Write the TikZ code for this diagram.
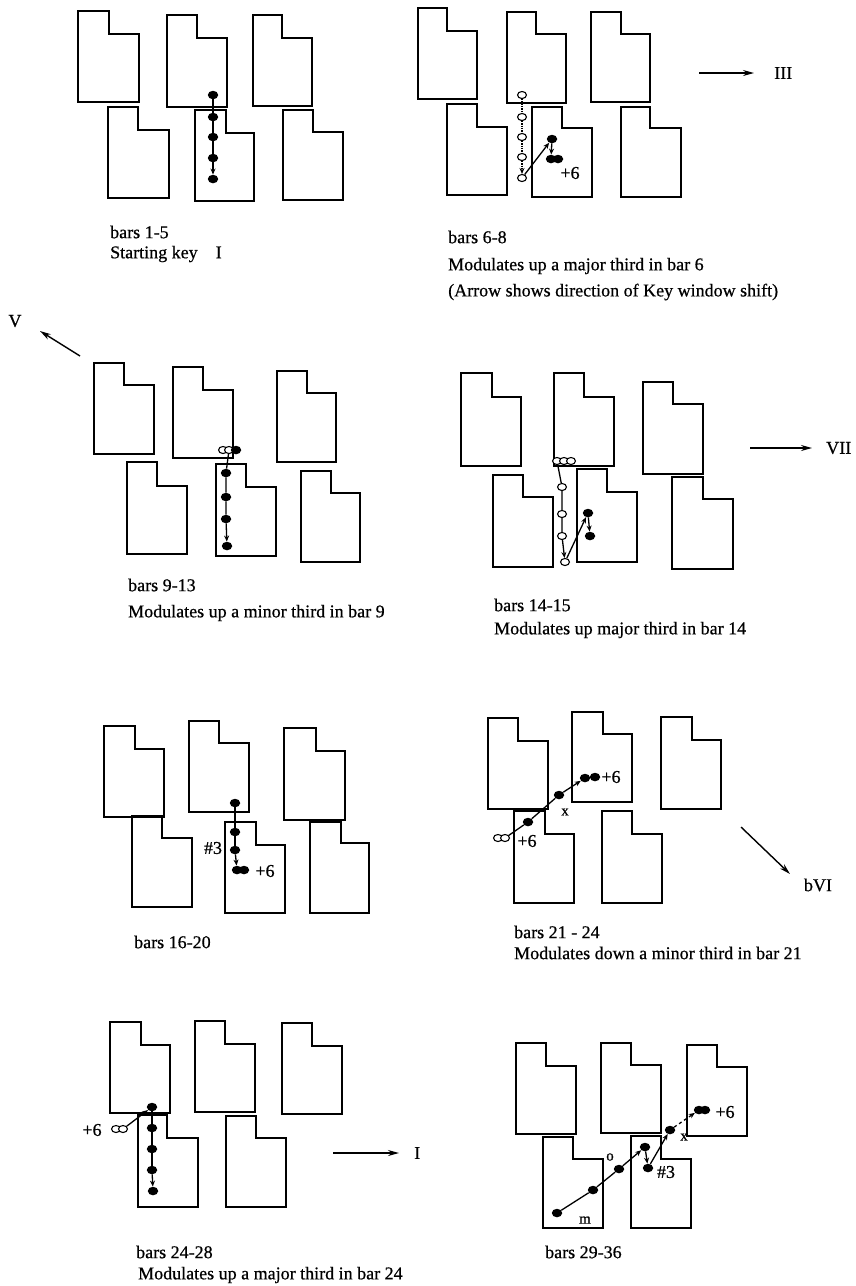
\documentclass[tikz,border=0pt]{standalone}
\usepackage{fontspec}
\setmainfont{Liberation Serif}[FakeBold=0.6]
\usetikzlibrary{shapes.geometric,arrows.meta}
\newcommand\kwin[6]{\draw[kw] (#1,#2) -- (#3,#2) -- (#3,#4) -- (#5,#4) -- (#5,#6) -- (#1,#6) -- cycle;}
\begin{document}
\begin{tikzpicture}[x=1pt,y=-1pt,
  kw/.style={line width=1.8pt, line join=miter},
  fd/.style={ellipse, fill=black, minimum width=10.5pt, minimum height=8.5pt, inner sep=0pt},
  od/.style={ellipse, draw, line width=1.1pt, fill=white, minimum width=9pt, minimum height=7pt, inner sep=0pt},
  con/.style={line width=1.3pt},
  tip/.style={-{Stealth[length=6pt,width=5pt]}},
  dirarrow/.style={line width=1.4pt, -{Stealth[length=11pt,width=6pt]}},
  lbl/.style={font=\fontsize{18}{21}\selectfont, anchor=west, inner sep=0pt},
  sm/.style={font=\fontsize{18}{21}\selectfont, inner sep=0pt},
  tiny/.style={font=\fontsize{15}{18}\selectfont, inner sep=0pt}]
\path[use as bounding box] (0,0) rectangle (855,1286);

% ================= Panel 1 =================
\kwin{78}{11}{109}{34}{139}{102}
\kwin{167}{15}{197}{38}{227}{107}
\kwin{253}{15}{282}{38}{312}{106}
\kwin{108}{107}{138}{130}{169}{198}
\kwin{195}{110}{226}{133}{254}{201}
\kwin{283}{110}{313}{132}{343}{200}
\node[fd] (pa1) at (213,95) {};
\node[fd] (pa2) at (213,117) {};
\node[fd] (pa3) at (213,137) {};
\node[fd] (pa4) at (213,158) {};
\node[fd] (pa5) at (213,179) {};
\draw[con] (pa1) -- (pa2) -- (pa3) -- (pa4);
\draw[con,tip] (pa4) -- (pa5);
\node[lbl] (t1a) at (110,232) {bars 1-5};
\node[lbl] (t1b) at (110,254) {Starting key\hspace{18pt}I};

% ================= Panel 2 =================
\kwin{418}{8}{447}{31}{477}{99}
\kwin{507}{12}{536}{34}{566}{103}
\kwin{591}{12}{621}{34}{650}{102}
\kwin{447}{104}{477}{127}{507}{195}
\kwin{532}{107}{562}{128}{592}{197}
\kwin{621}{107}{650}{128}{681}{197}
\node[od] (pb1) at (522,95) {};
\node[od] (pb2) at (522,117) {};
\node[od] (pb3) at (522,137) {};
\node[od] (pb4) at (522,157) {};
\node[od] (pb5) at (522,178) {};
\draw[con,densely dotted] (pb1) -- (pb2) -- (pb3) -- (pb4);
\draw[con,densely dotted,tip] (pb4) -- (pb5);
\node[fd] (pb6) at (552,139) {};
\node[fd] (pb7) at (551,159) {};
\node[fd] (pb8) at (558,159) {};
\draw[con,tip] (pb5) -- (pb6);
\draw[con,tip] (pb6) -- (pb7);
\node[sm] (pb9) at (570,173) {+6};
\coordinate (ar2s) at (699,73);
\coordinate (ar2e) at (754,73);
\draw[dirarrow] (ar2s) -- (ar2e);
\node[lbl] (ar2l) at (774,73) {III};
\node[lbl] (t2a) at (448,237) {bars 6-8};
\node[lbl] (t2b) at (448,266) {Modulates up a major third in bar 6};
\node[lbl] (t2c) at (448,292) {(Arrow shows direction of Key window shift)};

% ================= Panel 3 =================
\kwin{94}{363}{124}{385}{154}{454}
\kwin{173}{367}{203}{390}{233}{458}
\kwin{277}{371}{307}{393}{336}{462}
\kwin{127}{462}{157}{486}{187}{554}
\kwin{216}{464}{246}{487}{276}{556}
\kwin{301}{471}{331}{493}{360}{562}
\node[od] (pc0) at (223,450) {};
\node[od] (pc1) at (229,450) {};
\node[fd] (pc2) at (236,450) {};
\node[fd] (pc3) at (226,473) {};
\node[fd] (pc4) at (226,497) {};
\node[fd] (pc5) at (226,519) {};
\node[fd] (pc6) at (227,546) {};
\draw[con] (pc1) -- (pc3) -- (pc4) -- (pc5);
\draw[con,tip] (pc5) -- (pc6);
\coordinate (ar3s) at (80,356);
\coordinate (ar3e) at (40,331);
\draw[dirarrow] (ar3s) -- (ar3e);
\node[sm] (ar3l) at (15,321) {V};
\node[lbl] (t3a) at (128,585) {bars 9-13};
\node[lbl] (t3b) at (128,613) {Modulates up a minor third in bar 9};

% ================= Panel 4 =================
\kwin{461}{373}{492}{397}{521}{466}
\kwin{554}{373}{584}{397}{614}{466}
\kwin{643}{382}{673}{404}{703}{474}
\kwin{493}{475}{523}{497}{553}{567}
\kwin{577}{469}{607}{492}{637}{562}
\kwin{672}{477}{703}{499}{733}{569}
\node[od] (pd0) at (557,461) {};
\node[od] (pd1) at (564,461) {};
\node[od] (pd2) at (571,461) {};
\node[od] (pd3) at (562,487) {};
\node[od] (pd4) at (562,514) {};
\node[od] (pd5) at (562,536) {};
\node[od] (pd6) at (565,562) {};
\draw[con] (pd0) -- (pd3) -- (pd4) -- (pd5);
\draw[con,tip] (pd5) -- (pd6);
\node[fd] (pd7) at (588,513) {};
\node[fd] (pd8) at (590,536) {};
\draw[con,tip] (pd6) -- (pd7);
\draw[con,tip] (pd7) -- (pd8);
\coordinate (ar4s) at (750,448);
\coordinate (ar4e) at (812,448);
\draw[dirarrow] (ar4s) -- (ar4e);
\node[lbl] (ar4l) at (826,448) {VII};
\node[lbl] (t4a) at (494,605) {bars 14-15};
\node[lbl] (t4b) at (494,630) {Modulates up major third in bar 14};

% ================= Panel 5 =================
\kwin{104}{726}{135}{749}{164}{817}
\kwin{189}{721}{219}{743}{249}{812}
\kwin{284}{728}{316}{751}{345}{820}
\kwin{132}{816}{162}{838}{192}{907}
\kwin{225}{822}{256}{845}{285}{913}
\kwin{310}{822}{341}{843}{369}{913}
\node[fd] (pe1) at (235,803) {};
\node[fd] (pe2) at (235,832) {};
\node[fd] (pe3) at (235,850) {};
\node[fd] (pe4) at (237,870) {};
\node[fd] (pe5) at (244,870) {};
\draw[con] (pe1) -- (pe2) -- (pe3);
\draw[con,tip] (pe3) -- (pe4);
\node[sm] (pe6) at (213,848) {\#3};
\node[sm] (pe7) at (265,871) {+6};
\node[lbl] (t5a) at (134,942) {bars 16-20};

% ================= Panel 6 =================
\kwin{488}{718}{518}{741}{548}{809}
\kwin{572}{712}{603}{734}{632}{802}
\kwin{661}{717}{692}{740}{721}{809}
\kwin{514}{811}{545}{834}{574}{903}
\kwin{602}{811}{632}{834}{662}{903}
\node[od] (pf0) at (498,838) {};
\node[od] (pf1) at (505,838) {};
\node[fd] (pf2) at (528,822) {};
\node[fd] (pf3) at (559,795) {};
\node[fd] (pf4) at (585,778) {};
\node[fd] (pf5) at (595,777) {};
\draw[con] (pf1) -- (pf2) -- (pf3);
\draw[con,tip] (pf3) -- (pf4);
\node[sm] (pf6) at (527,841) {+6};
\node[sm] (pf7) at (611,777) {+6};
\node[tiny] (pf8) at (565,812) {x};
\coordinate (ar6s) at (741,827);
\coordinate (ar6e) at (790,874);
\draw[dirarrow] (ar6s) -- (ar6e);
\node[sm] (ar6l) at (818,885) {bVI};
\node[lbl] (t6a) at (514,932) {bars 21 - 24};
\node[lbl] (t6b) at (514,953) {Modulates down a minor third in bar 21};

% ================= Panel 7 =================
\kwin{110}{1022}{141}{1045}{170}{1113}
\kwin{195}{1021}{225}{1044}{255}{1112}
\kwin{282}{1023}{312}{1046}{342}{1114}
\kwin{138}{1115}{167}{1138}{198}{1207}
\kwin{226}{1116}{256}{1138}{286}{1207}
\node[fd] (pg1) at (152,1107) {};
\node[fd] (pg2) at (152,1128) {};
\node[fd] (pg3) at (152,1149) {};
\node[fd] (pg4) at (152,1170) {};
\node[fd] (pg5) at (153,1191) {};
\draw[con] (pg1) -- (pg2) -- (pg3) -- (pg4);
\draw[con,tip] (pg4) -- (pg5);
\node[od] (pg6) at (116,1129) {};
\node[od] (pg7) at (123,1129) {};
\draw[con,tip] (pg7) -- (pg1);
\node[sm] (pg8) at (92,1130) {+6};
\coordinate (ar7s) at (333,1153);
\coordinate (ar7e) at (399,1153);
\draw[dirarrow] (ar7s) -- (ar7e);
\node[lbl] (ar7l) at (414,1153) {I};
\node[lbl] (t7a) at (136,1252) {bars 24-28};
\node[lbl] (t7b) at (138,1275) {Modulates up a major third in bar 24};

% ================= Panel 8 =================
\kwin{516}{1043}{546}{1066}{576}{1134}
\kwin{601}{1043}{631}{1065}{661}{1133}
\kwin{687}{1045}{717}{1067}{747}{1136}
\kwin{543}{1137}{573}{1159}{603}{1228}
\kwin{631}{1136}{661}{1159}{691}{1228}
\node[fd] (ph1) at (557,1213) {};
\node[fd] (ph2) at (593,1190) {};
\node[fd] (ph3) at (619,1169) {};
\node[fd] (ph4) at (645,1147) {};
\node[fd] (ph5) at (648,1168) {};
\node[fd] (ph6) at (670,1130) {};
\node[fd] (ph7) at (699,1110) {};
\node[fd] (ph8) at (705,1110) {};
\draw[con] (ph1) -- (ph2) -- (ph3);
\draw[con,tip] (ph3) -- (ph4);
\draw[con,tip] (ph4) -- (ph5);
\draw[con,tip] (ph5) -- (ph6);
\draw[con,dashed,tip] (ph6) -- (ph7);
\node[sm] (ph9) at (666,1172) {\#3};
\node[sm] (ph10) at (725,1112) {+6};
\node[tiny] (ph11) at (684,1137) {x};
\node[tiny] (ph12) at (610,1157) {o};
\node[tiny] (ph13) at (585,1220) {m};
\node[lbl] (t8a) at (545,1252) {bars 29-36};
\end{tikzpicture}
\end{document}
